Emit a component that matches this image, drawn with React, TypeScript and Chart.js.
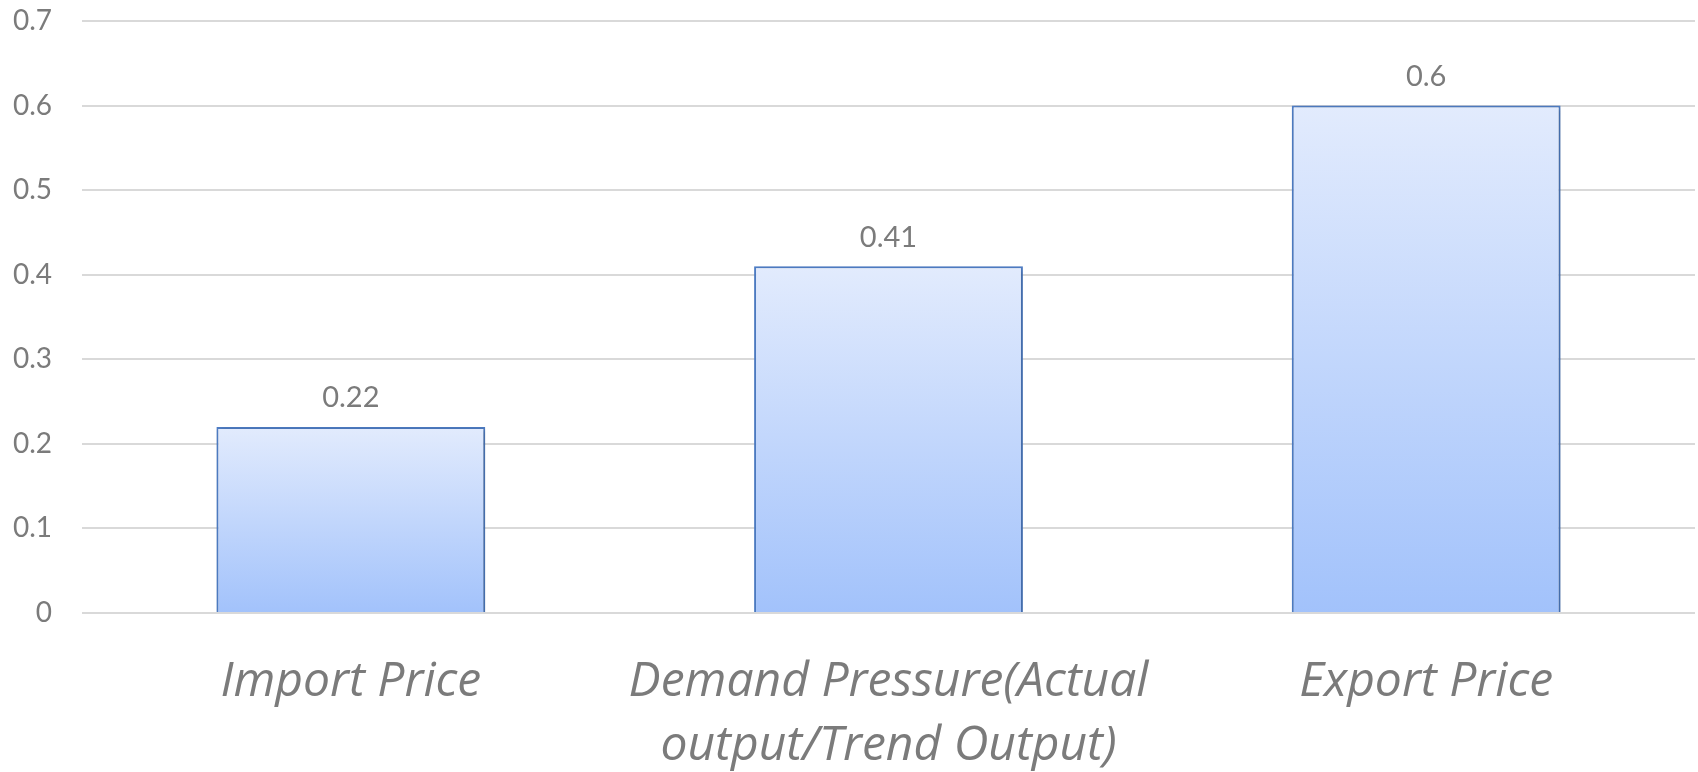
import React, { useEffect, useRef } from "react";
import { Chart, registerables } from "chart.js";

Chart.register(...registerables);

// Coefficients by factor
const categories: (string | string[])[] = [
  "Import Price",
  ["Demand Pressure(Actual", "output/Trend Output)"],
  "Export Price",
];
const coefficients: number[] = [0.22, 0.41, 0.6];
const valueLabels: string[] = ["0.22", "0.41", "0.6"];

const TEXT_GRAY = "#7b7b7b";
const GRID_GRAY = "#d9d9d9";
const FONT = "Lato, 'Open Sans', sans-serif";
const LABEL_FONT = "'Open Sans', Lato, sans-serif";

// Soft drop shadow behind the bars
const barShadow = {
  id: "barShadow",
  beforeDatasetsDraw(chart: any) {
    const ctx = chart.ctx;
    ctx.save();
    ctx.shadowColor = "rgba(0,0,0,0.28)";
    ctx.shadowBlur = 5;
    ctx.shadowOffsetX = 1.5;
    ctx.shadowOffsetY = 1.5;
  },
  afterDatasetsDraw(chart: any) {
    chart.ctx.restore();
  },
};

// Value printed above each bar
const barValues = {
  id: "barValues",
  afterDatasetsDraw(chart: any) {
    const ctx = chart.ctx;
    const meta = chart.getDatasetMeta(0);
    ctx.save();
    ctx.font = `29px ${FONT}`;
    ctx.fillStyle = TEXT_GRAY;
    ctx.textAlign = "center";
    ctx.textBaseline = "middle";
    meta.data.forEach((bar: any, i: number) => {
      ctx.fillText(valueLabels[i], bar.x, bar.y - 29);
    });
    ctx.restore();
  },
};

export default function App() {
  const canvasRef = useRef<HTMLCanvasElement | null>(null);

  useEffect(() => {
    let chart: Chart | null = null;
    let cancelled = false;

    const build = () => {
      if (cancelled || !canvasRef.current) return;
      chart = new Chart(canvasRef.current, {
        type: "bar",
        data: {
          labels: categories as any,
          datasets: [
            {
              data: coefficients,
              backgroundColor: (c: any) => {
                const ch = c.chart;
                const y = ch.scales?.y;
                if (!ch.chartArea || !y || c.raw === undefined) return "#c4d8fc";
                const top = y.getPixelForValue(c.raw);
                const bottom = y.getPixelForValue(0);
                const g = ch.ctx.createLinearGradient(0, top, 0, bottom);
                g.addColorStop(0, "#e2ebfd");
                g.addColorStop(1, "#a2c2fb");
                return g;
              },
              borderColor: "#4f7ec6",
              borderWidth: 2,
              barPercentage: 0.5,
              categoryPercentage: 1,
            },
          ],
        },
        options: {
          responsive: false,
          animation: false,
          layout: { padding: { top: 21, right: 3, left: 0, bottom: 0 } },
          plugins: {
            legend: { display: false },
            tooltip: { enabled: false },
          },
          scales: {
            x: {
              grid: { display: false, drawTicks: false },
              border: { display: false },
              ticks: {
                color: TEXT_GRAY,
                font: { family: LABEL_FONT, size: 48, style: "italic", lineHeight: 1.32 },
                padding: 38,
                maxRotation: 0,
                autoSkip: false,
              },
              afterFit: (s: any) => {
                s.height = 159;
              },
            },
            y: {
              min: 0,
              max: 0.7,
              grid: { color: GRID_GRAY, lineWidth: 2, drawTicks: false },
              border: { display: false },
              ticks: {
                stepSize: 0.1,
                color: TEXT_GRAY,
                font: { family: FONT, size: 28 },
                padding: 30,
                crossAlign: "near",
                callback: (v: any) => String(Math.round(Number(v) * 10) / 10),
              },
              afterFit: (s: any) => {
                s.width = 82;
                s.paddingTop = 0;
                s.paddingBottom = 0;
              },
            },
          },
        },
        plugins: [barShadow, barValues],
      });
    };

    const fontsReady = (document as any).fonts
      ? Promise.all([
          (document as any).fonts.load(`italic 48px 'Open Sans'`),
          (document as any).fonts.load(`28px Lato`),
        ]).catch(() => null)
      : Promise.resolve(null);
    fontsReady.then(build);

    return () => {
      cancelled = true;
      if (chart) chart.destroy();
    };
  }, []);

  return (
    <div style={{ position: "absolute", left: 0, top: 0, width: 1698, height: 772, background: "#fff" }}>
      <canvas ref={canvasRef} width={1698} height={772} />
    </div>
  );
}
